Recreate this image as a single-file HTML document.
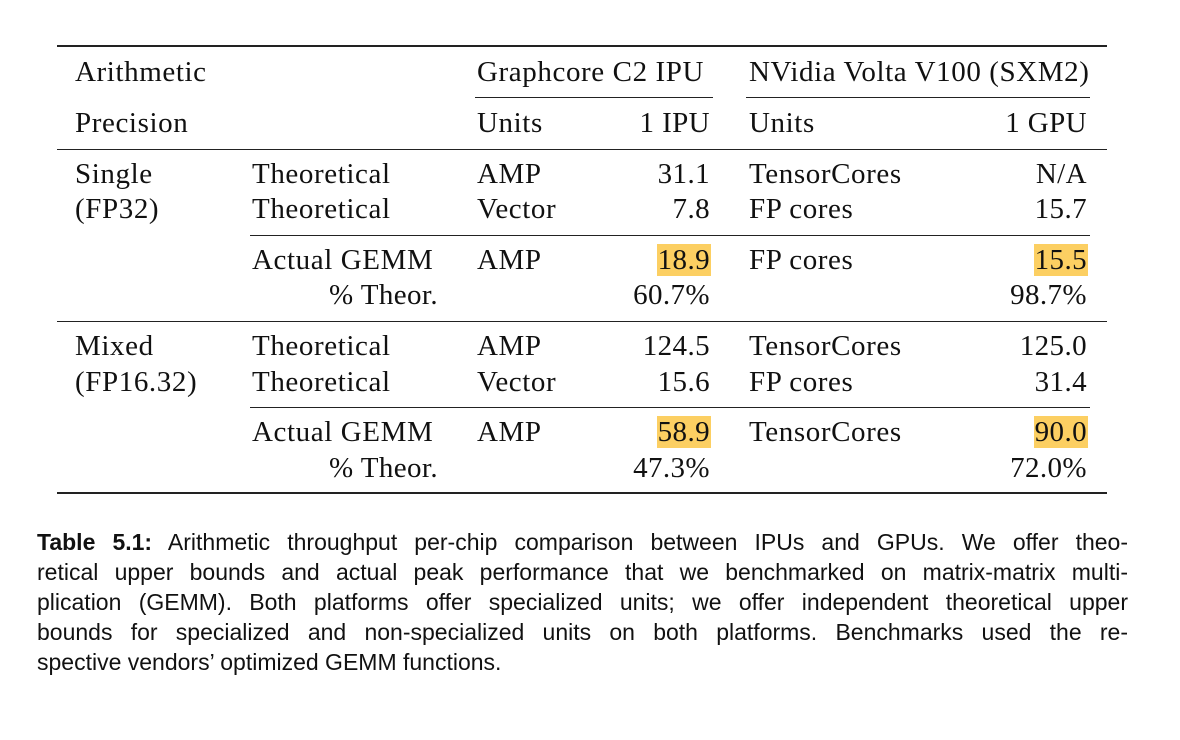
<!DOCTYPE html>
<html><head><meta charset="utf-8"><style>
body{margin:0;width:1180px;height:740px;background:#fff;position:relative;overflow:hidden}
.t{position:absolute;font-family:"Liberation Serif",serif;font-size:29px;letter-spacing:0.6px;color:#111;line-height:30px;white-space:nowrap}
.r{text-align:right;letter-spacing:0.4px}
.h{background:#fccf62;padding:0 1px;margin-right:-1px}
.ln{position:absolute;background:#222}
.c{position:absolute;left:37px;width:1091px;font-family:"Liberation Sans",sans-serif;font-size:23px;color:#111;line-height:28px;text-align:justify;text-align-last:justify;white-space:nowrap}
</style></head><body>
<div class="ln" style="left:57px;top:45px;width:1050px;height:2px"></div>
<div class="ln" style="left:475px;top:97px;width:238px;height:1px"></div>
<div class="ln" style="left:746px;top:97px;width:344px;height:1px"></div>
<div class="ln" style="left:57px;top:149px;width:1050px;height:1px"></div>
<div class="ln" style="left:250px;top:235px;width:840px;height:1px"></div>
<div class="ln" style="left:57px;top:321px;width:1050px;height:1px"></div>
<div class="ln" style="left:250px;top:407px;width:840px;height:1px"></div>
<div class="ln" style="left:57px;top:492px;width:1050px;height:2px"></div>

<div class="t" style="left:75px;top:57px">Arithmetic</div>
<div class="t" style="left:477px;top:57px">Graphcore C2 IPU</div>
<div class="t" style="left:749px;top:57px">NVidia Volta V100 (SXM2)</div>
<div class="t" style="left:75px;top:108px">Precision</div>
<div class="t" style="left:477px;top:108px">Units</div>
<div class="t r" style="right:470px;top:108px">1 IPU</div>
<div class="t" style="left:749px;top:108px">Units</div>
<div class="t r" style="right:93px;top:108px">1 GPU</div>

<div class="t" style="left:75px;top:159px">Single</div>
<div class="t" style="left:75px;top:194px">(FP32)</div>
<div class="t" style="left:252px;top:159px">Theoretical</div>
<div class="t" style="left:252px;top:194px">Theoretical</div>
<div class="t" style="left:477px;top:159px">AMP</div>
<div class="t" style="left:477px;top:194px">Vector</div>
<div class="t r" style="right:470px;top:159px">31.1</div>
<div class="t r" style="right:470px;top:194px">7.8</div>
<div class="t" style="left:749px;top:159px">TensorCores</div>
<div class="t" style="left:749px;top:194px">FP cores</div>
<div class="t r" style="right:93px;top:159px">N/A</div>
<div class="t r" style="right:93px;top:194px">15.7</div>

<div class="t" style="left:252px;top:245px">Actual GEMM</div>
<div class="t r" style="right:742px;top:280px">% Theor.</div>
<div class="t" style="left:477px;top:245px">AMP</div>
<div class="t r" style="right:470px;top:245px"><span class="h">18.9</span></div>
<div class="t r" style="right:470px;top:280px">60.7%</div>
<div class="t" style="left:749px;top:245px">FP cores</div>
<div class="t r" style="right:93px;top:245px"><span class="h">15.5</span></div>
<div class="t r" style="right:93px;top:280px">98.7%</div>

<div class="t" style="left:75px;top:331px">Mixed</div>
<div class="t" style="left:75px;top:367px">(FP16.32)</div>
<div class="t" style="left:252px;top:331px">Theoretical</div>
<div class="t" style="left:252px;top:367px">Theoretical</div>
<div class="t" style="left:477px;top:331px">AMP</div>
<div class="t" style="left:477px;top:367px">Vector</div>
<div class="t r" style="right:470px;top:331px">124.5</div>
<div class="t r" style="right:470px;top:367px">15.6</div>
<div class="t" style="left:749px;top:331px">TensorCores</div>
<div class="t" style="left:749px;top:367px">FP cores</div>
<div class="t r" style="right:93px;top:331px">125.0</div>
<div class="t r" style="right:93px;top:367px">31.4</div>

<div class="t" style="left:252px;top:417px">Actual GEMM</div>
<div class="t r" style="right:742px;top:453px">% Theor.</div>
<div class="t" style="left:477px;top:417px">AMP</div>
<div class="t r" style="right:470px;top:417px"><span class="h">58.9</span></div>
<div class="t r" style="right:470px;top:453px">47.3%</div>
<div class="t" style="left:749px;top:417px">TensorCores</div>
<div class="t r" style="right:93px;top:417px"><span class="h">90.0</span></div>
<div class="t r" style="right:93px;top:453px">72.0%</div>

<div class="c" style="top:528px"><b>Table 5.1:</b> Arithmetic throughput per-chip comparison between IPUs and GPUs. We offer theo-</div>
<div class="c" style="top:558px">retical upper bounds and actual peak performance that we benchmarked on matrix-matrix multi-</div>
<div class="c" style="top:588px">plication (GEMM). Both platforms offer specialized units; we offer independent theoretical upper</div>
<div class="c" style="top:618px">bounds for specialized and non-specialized units on both platforms. Benchmarks used the re-</div>
<div class="c" style="top:648px;text-align-last:left;width:auto">spective vendors’ optimized GEMM functions.</div>
</body></html>
